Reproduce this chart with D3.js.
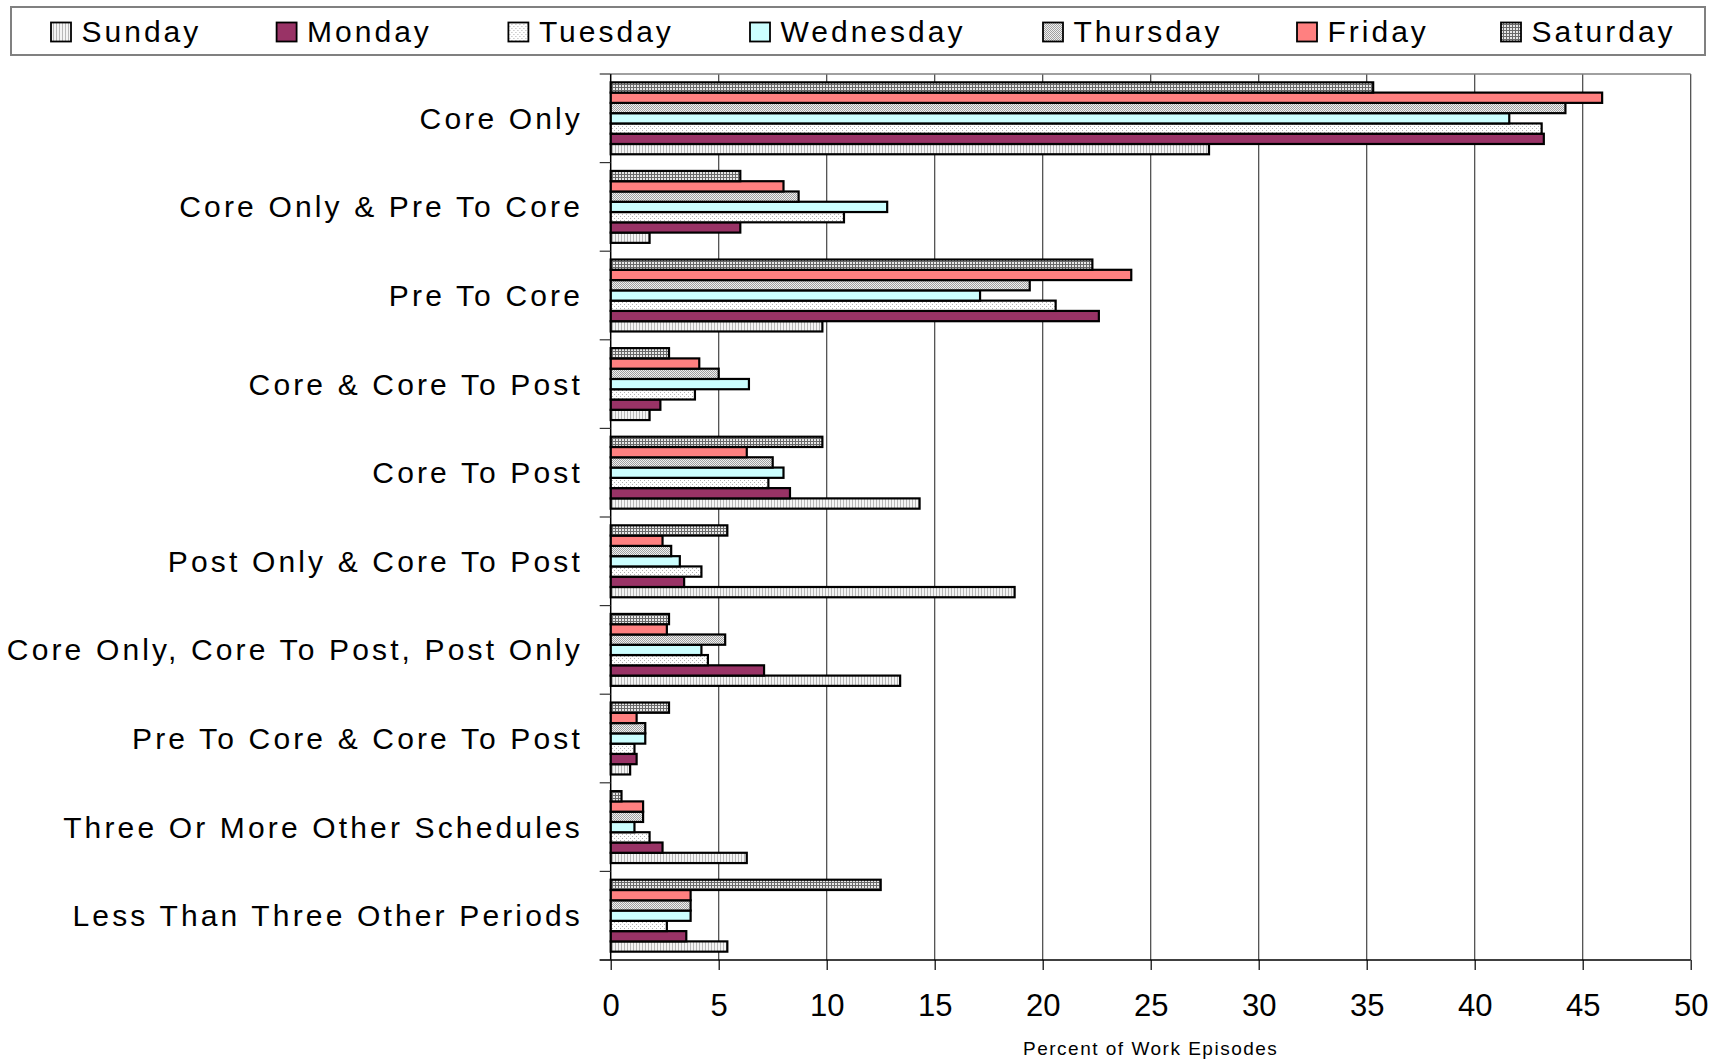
<!DOCTYPE html>
<html>
<head>
<meta charset="utf-8">
<script src="https://cdn.jsdelivr.net/npm/d3@7"></script>
<style>
  html, body { margin: 0; padding: 0; background: #fff; }
  svg text { font-family: "Liberation Sans", Arial, sans-serif; fill: #000; }
</style>
</head>
<body>
<svg id="chart" width="1722" height="1062"></svg>
<script>
// categories, top to bottom
var categories = ["Core Only", "Core Only & Pre To Core", "Pre To Core", "Core & Core To Post",
    "Core To Post", "Post Only & Core To Post", "Core Only, Core To Post, Post Only",
    "Pre To Core & Core To Post", "Three Or More Other Schedules", "Less Than Three Other Periods"];

var days = ["Sunday", "Monday", "Tuesday", "Wednesday", "Thursday", "Friday", "Saturday"];

// percent of work episodes, one value per category
var sunday    = [27.7, 1.8,  9.8, 1.8, 14.3, 18.7, 13.4, 0.9, 6.3, 5.4];
var monday    = [43.2, 6.0, 22.6, 2.3,  8.3,  3.4,  7.1, 1.2, 2.4, 3.5];
var tuesday   = [43.1, 10.8, 20.6, 3.9, 7.3,  4.2,  4.5, 1.1, 1.8, 2.6];
var wednesday = [41.6, 12.8, 17.1, 6.4, 8.0,  3.2,  4.2, 1.6, 1.1, 3.7];
var thursday  = [44.2, 8.7, 19.4, 5.0,  7.5,  2.8,  5.3, 1.6, 1.5, 3.7];
var friday    = [45.9, 8.0, 24.1, 4.1,  6.3,  2.4,  2.6, 1.2, 1.5, 3.7];
var saturday  = [35.3, 6.0, 22.3, 2.7,  9.8,  5.4,  2.7, 2.7, 0.5, 12.5];

var xTicks = [0, 5, 10, 15, 20, 25, 30, 35, 40, 45, 50];

var seriesValues = [sunday, monday, tuesday, wednesday, thursday, friday, saturday];
var dayFills = ["url(#pSun)", "#993366", "url(#pTue)", "#CCFFFF", "url(#pThu)", "#FF8080", "url(#pSat)"];

var svg = d3.select("#chart");

// fill patterns like the old spreadsheet ones
var defs = svg.append("defs");
var pSun = defs.append("pattern").attr("id", "pSun").attr("patternUnits", "userSpaceOnUse")
    .attr("width", 3).attr("height", 3);
pSun.append("rect").attr("width", 3).attr("height", 3).attr("fill", "#f4f4f4");
pSun.append("rect").attr("width", 1).attr("height", 3).attr("fill", "#b8b8b8");

var pTue = defs.append("pattern").attr("id", "pTue").attr("patternUnits", "userSpaceOnUse")
    .attr("width", 4).attr("height", 4);
pTue.append("rect").attr("width", 4).attr("height", 4).attr("fill", "#fff");
pTue.append("rect").attr("width", 1).attr("height", 1).attr("fill", "#b0b0b0");
pTue.append("rect").attr("x", 2).attr("y", 2).attr("width", 1).attr("height", 1).attr("fill", "#b0b0b0");

var pThu = defs.append("pattern").attr("id", "pThu").attr("patternUnits", "userSpaceOnUse")
    .attr("width", 2).attr("height", 2);
pThu.append("rect").attr("width", 2).attr("height", 2).attr("fill", "#f0f0f0");
pThu.append("rect").attr("width", 1).attr("height", 1).attr("fill", "#a0a0a0");
pThu.append("rect").attr("x", 1).attr("y", 1).attr("width", 1).attr("height", 1).attr("fill", "#a0a0a0");

var pSat = defs.append("pattern").attr("id", "pSat").attr("patternUnits", "userSpaceOnUse")
    .attr("width", 3).attr("height", 3);
pSat.append("rect").attr("width", 3).attr("height", 3).attr("fill", "#6a6a6a");
pSat.append("rect").attr("x", 1).attr("y", 1).attr("width", 2).attr("height", 2).attr("fill", "#e8e8e8");

// plot area
var plotLeft = 610.7, plotRight = 1690.7, plotTop = 74, plotBottom = 960;

var xScale = d3.scaleLinear().domain([0, 50]).range([plotLeft, plotRight]);
var yScale = d3.scaleBand().domain(categories).range([plotTop, plotBottom]);
var bandGap = yScale.bandwidth() * 0.094;
// Excel draws the last series on top
var barScale = d3.scaleBand().domain(days.slice().reverse())
    .range([bandGap, yScale.bandwidth() - bandGap]);

// vertical gridlines
svg.append("g").selectAll("line")
    .data(xTicks.slice(1))
    .enter().append("line")
    .attr("x1", function (d) { return xScale(d); })
    .attr("x2", function (d) { return xScale(d); })
    .attr("y1", plotTop).attr("y2", plotBottom)
    .attr("stroke", "#444").attr("stroke-width", 1.2);

// plot border top
svg.append("line").attr("x1", plotLeft).attr("x2", plotRight)
    .attr("y1", plotTop).attr("y2", plotTop)
    .attr("stroke", "#808080").attr("stroke-width", 1.5);

// bars
var barGroups = svg.append("g").selectAll("g")
    .data(days)
    .enter().append("g");

barGroups.selectAll("rect")
    .data(function (day, i) {
        return seriesValues[i].map(function (v, j) {
            return { day: day, category: categories[j], value: v, fill: dayFills[i] };
        });
    })
    .enter().append("rect")
    .attr("x", xScale(0))
    .attr("y", function (d) { return yScale(d.category) + barScale(d.day); })
    .attr("width", function (d) { return xScale(d.value) - xScale(0); })
    .attr("height", barScale.bandwidth())
    .attr("fill", function (d) { return d.fill; })
    .attr("stroke", "#000")
    .attr("stroke-width", 2.2);

// x axis
var xAxis = d3.axisBottom(xScale).tickValues(xTicks).tickSize(10).tickPadding(24);
var gx = svg.append("g").attr("transform", "translate(0," + plotBottom + ")").call(xAxis);
gx.select(".domain").attr("stroke", "#000").attr("stroke-width", 1.5)
    .attr("d", "M" + (plotLeft - 11) + ",0H" + plotRight);
gx.selectAll(".tick line").attr("stroke", "#000").attr("stroke-width", 1.2);
gx.selectAll(".tick text").attr("font-size", 31).attr("dy", "0.71em")
    .style("font-family", "'Liberation Sans', Arial, sans-serif");

// y axis: ticks between categories
var boundaries = categories.map(function (c) { return yScale(c); }).concat([plotBottom]);
svg.append("line").attr("x1", plotLeft).attr("x2", plotLeft)
    .attr("y1", plotTop).attr("y2", plotBottom)
    .attr("stroke", "#000").attr("stroke-width", 1.5);
svg.append("g").selectAll("line")
    .data(boundaries)
    .enter().append("line")
    .attr("x1", plotLeft - 11).attr("x2", plotLeft)
    .attr("y1", function (d) { return d; }).attr("y2", function (d) { return d; })
    .attr("stroke", "#333").attr("stroke-width", 1.2);

// category labels
svg.append("g").selectAll("text")
    .data(categories)
    .enter().append("text")
    .attr("x", 583)
    .attr("y", function (d) { return yScale(d) + yScale.bandwidth() / 2; })
    .attr("dy", "0.35em")
    .attr("text-anchor", "end")
    .attr("font-size", 30)
    .attr("letter-spacing", 3.15)
    .text(function (d) { return d; });

// axis title
svg.append("text")
    .attr("x", (plotLeft + plotRight) / 2)
    .attr("y", 1055)
    .attr("text-anchor", "middle")
    .attr("font-size", 19)
    .attr("letter-spacing", 1.5)
    .text("Percent of Work Episodes");

// legend
svg.append("rect")
    .attr("x", 11).attr("y", 7).attr("width", 1694).attr("height", 48)
    .attr("fill", "#fff").attr("stroke", "#808080").attr("stroke-width", 2);

var legendX = [50, 275.6, 507.4, 749, 1042, 1296, 1500];
var legendItems = svg.append("g").selectAll("g")
    .data(days)
    .enter().append("g")
    .attr("transform", function (d, i) { return "translate(" + legendX[i] + ",0)"; });
legendItems.append("rect")
    .attr("x", 1).attr("y", 22.5).attr("width", 20).attr("height", 19)
    .attr("fill", function (d, i) { return dayFills[i]; })
    .attr("stroke", "#000").attr("stroke-width", 1.8);
legendItems.append("text")
    .attr("x", 31.5).attr("y", 41.5)
    .attr("font-size", 30)
    .attr("letter-spacing", 3)
    .text(function (d) { return d; });
</script>
</body>
</html>
